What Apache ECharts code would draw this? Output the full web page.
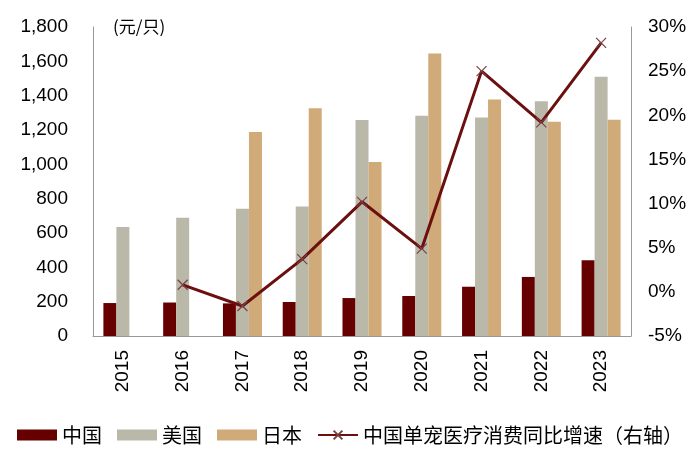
<!DOCTYPE html>
<html><head><meta charset="utf-8">
<script src="https://cdn.jsdelivr.net/npm/echarts@6/dist/echarts.min.js"></script>
<style>html,body{margin:0;padding:0;background:#fff}#c{width:700px;height:464px}</style>
</head><body><div id="c"></div>
<script>
const years = ['2015','2016','2017','2018','2019','2020','2021','2022','2023'];
const china = [192, 195, 190, 198, 221, 233, 287, 344, 441];
const usa = [635, 689, 741, 755, 1258, 1283, 1273, 1367, 1510];
const japan = [null, null, 1188, 1326, 1013, 1646, 1378, 1248, 1260];
const growth = [null, 0.8, -1.6, 3.7, 10.2, 4.9, 25.0, 19.2, 28.2];
const leftTicks = {min: 0, max: 1800, interval: 200};
const rightTicks = {min: -5, max: 30, interval: 5};

const FONT = '"Liberation Sans", "Noto Sans CJK SC", Arial, sans-serif';
const CJK = '"Noto Sans CJK SC", "Liberation Sans", sans-serif';
const chart = echarts.init(document.getElementById('c'));
const xMark = 'path://M0,0L10,10M10,0L0,10';
chart.setOption({
  animation: false,
  textStyle: {fontFamily: FONT},
  grid: {left: 93, right: 69, top: 27, bottom: 128},
  legend: {
    bottom: 14, left: 'center', itemGap: 15, itemWidth: 40, itemHeight: 11,
    textStyle: {fontSize: 20, color: '#000', fontFamily: CJK},
    data: [{name: '中国', icon: 'rect'}, {name: '美国', icon: 'rect'}, {name: '日本', icon: 'rect'}, {name: '中国单宠医疗消费同比增速（右轴）'}]
  },
  graphic: [{type: 'text', left: 113, top: 18, style: {text: '(元/只)', fontSize: 17, fill: '#000', fontFamily: CJK}}],
  xAxis: {
    type: 'category', data: years,
    axisLine: {lineStyle: {color: '#999'}}, axisTick: {show: false},
    axisLabel: {rotate: 90, fontSize: 19, color: '#000', margin: 14}
  },
  yAxis: [{
    type: 'value', min: leftTicks.min, max: leftTicks.max, interval: leftTicks.interval,
    axisLine: {show: true, lineStyle: {color: '#999'}}, axisTick: {show: false}, splitLine: {show: false},
    axisLabel: {fontSize: 19, color: '#000', margin: 25, formatter: v => v.toLocaleString('en-US')}
  }, {
    type: 'value', min: rightTicks.min, max: rightTicks.max, interval: rightTicks.interval,
    axisLine: {show: true, lineStyle: {color: '#999'}}, axisTick: {show: false}, splitLine: {show: false},
    axisLabel: {fontSize: 19, color: '#000', margin: 17, formatter: v => v + '%'}
  }],
  series: [
    {name: '中国', type: 'bar', data: china, barWidth: 13, barGap: '0%', itemStyle: {color: '#660000'}},
    {name: '美国', type: 'bar', data: usa, barWidth: 13, barGap: '0%', itemStyle: {color: '#BAB9A9'}},
    {name: '日本', type: 'bar', data: japan, barWidth: 13, barGap: '0%', itemStyle: {color: '#D0AA78'}},
    {name: '中国单宠医疗消费同比增速（右轴）', type: 'line', yAxisIndex: 1, data: growth,
     lineStyle: {color: '#6B0F0F', width: 3}, symbol: xMark, symbolSize: 10, showSymbol: true,
     itemStyle: {color: '#6B0F0F', borderColor: '#7a4040', borderWidth: 1.2}}
  ]
});
</script></body></html>
